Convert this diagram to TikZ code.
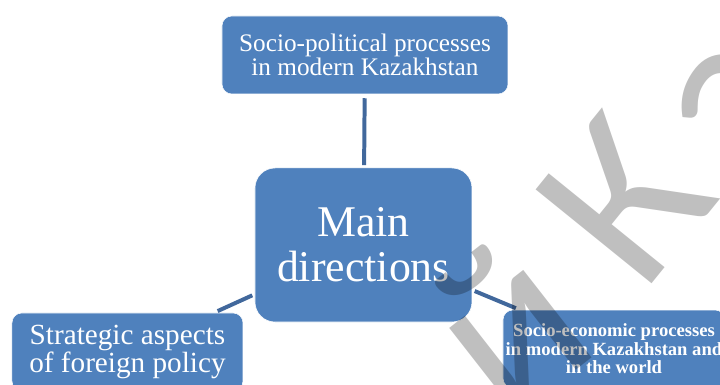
\documentclass[tikz,border=0pt]{standalone}
\usepackage{fontspec}
\setmainfont{Liberation Serif}
\newfontfamily\markfont{Carlito}
\definecolor{boxblue}{HTML}{4F81BD}
\definecolor{linkblue}{HTML}{41689C}

\begin{document}
\begin{tikzpicture}[
  box/.style={rectangle, rounded corners=0.26cm, fill=boxblue, draw=white, line width=0.4pt, text=white, align=center, inner sep=0pt},
  link/.style={draw=linkblue, line width=3pt, shorten <=2pt, shorten >=3pt},
  stamp/.style={text=black, text opacity=0.25, font=\markfont\fontsize{175}{175}\selectfont, inner sep=0pt}]
\clip (0,0) rectangle (19.05,10.186);
\node[box, minimum width=7.567cm, minimum height=2.064cm, font=\fontsize{19}{18}\selectfont] (political) at (9.657,8.731) {Socio-political processes\\in modern Kazakhstan};
\node[box, rounded corners=0.53cm, minimum width=5.741cm, minimum height=4.075cm, font=\fontsize{33}{34}\selectfont] (main) at (9.617,3.704) {Main\\directions};
\node[box, minimum width=6.112cm, minimum height=2.064cm, font=\fontsize{22}{21}\selectfont] (foreign) at (3.373,0.873) {Strategic aspects\\of foreign policy};
\node[box, minimum width=5.874cm, minimum height=2.064cm, font=\bfseries\fontsize{14}{13.9}\selectfont] (economic) at (16.245,0.952) {Socio-economic processes\\in modern Kazakhstan and\\in the world};
\draw[link] (main) -- (political);
\draw[link] (main) -- (foreign);
\draw[link] (main) -- (economic);
% watermark
\node[stamp, rotate=38] (stampI) at (13.40,1.60) {й};
\node[stamp, rotate=51] (stampK) at (16.52,4.92) {К};
\node[stamp, rotate=55] (stampA) at (19.55,7.35) {а};
\end{tikzpicture}
\end{document}
